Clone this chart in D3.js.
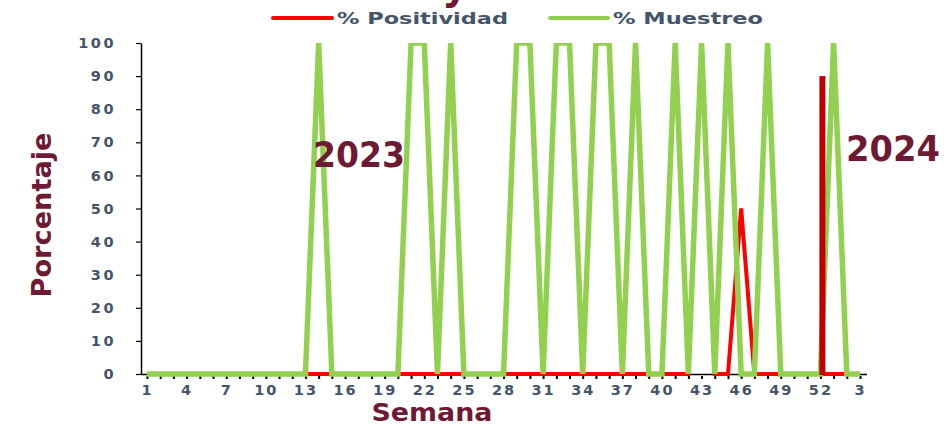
<!DOCTYPE html>
<html><head><meta charset="utf-8">
<script src="https://cdn.jsdelivr.net/npm/d3@7"></script>
<style>
html,body{margin:0;padding:0;background:#fff;}
svg{display:block;}
</style></head>
<body>
<svg id="c" width="945" height="427"></svg>
<script>
// ---- data ----
const semanas = [
  "1","2","3","4","5","6","7","8","9","10","11","12","13","14","15","16","17","18","19","20",
  "21","22","23","24","25","26","27","28","29","30","31","32","33","34","35","36","37","38","39","40",
  "41","42","43","44","45","46","47","48","49","50","51","52","1 ","2 ","3 "
];
const tickLabels = ["1","4","7","10","13","16","19","22","25","28","31","34","37","40","43","46","49","52","3 "];
const muestreo = [
  0,0,0,0,0,0,0,0,0,0,0,0,0,100,0,0,0,0,0,0,
  100,100,0,100,0,0,0,0,100,100,0,100,100,0,100,100,0,100,0,0,
  100,0,100,0,100,0,0,100,0,0,0,0,100,0,0
];
const positividad = [
  0,0,0,0,0,0,0,0,0,0,0,0,0,0,0,0,0,0,0,0,
  0,0,0,0,0,0,0,0,0,0,0,0,0,0,0,0,0,0,0,0,
  0,0,100,0,0,50,0,0,0,0,0,0,0,0,0
];
const positividad2024Barra = [{semana:"52", valor:90}];
const yTicks = [0,10,20,30,40,50,60,70,80,90,100];

const maroon = "#6E1A35", slate = "#44546A";
const svg = d3.select("#c");

const x = d3.scalePoint().domain(semanas).range([147, 860]);
const y = d3.scaleLinear().domain([0,100]).range([374, 43]);

// clip
svg.append("defs").append("clipPath").attr("id","clip")
  .append("rect").attr("x",130).attr("y",43).attr("width",760).attr("height",336);

// axes
const xAxis = svg.append("g").attr("transform","translate(0,374)")
  .call(d3.axisBottom(x).tickSizeInner(3).tickSizeOuter(0).tickFormat(d => tickLabels.includes(d) ? d.trim() : ""));
xAxis.select(".domain").attr("d","M141,0.5H867").attr("stroke","#000").attr("stroke-width",1.5);
xAxis.selectAll(".tick line").attr("stroke","#000").attr("stroke-width",2).attr("y1",2).attr("y2",5);
xAxis.selectAll(".tick text").attr("fill",slate).attr("dy","1.05em")
  .style("font-family","'DejaVu Sans'").style("font-weight","bold").style("font-size","14.5px")
  .style("letter-spacing","2px");

const yAxis = svg.append("g").attr("transform","translate(141,0)")
  .call(d3.axisLeft(y).tickValues(yTicks).tickSizeInner(5).tickSizeOuter(0).tickPadding(20));
yAxis.select(".domain").attr("stroke","#000").attr("stroke-width",1.5);
yAxis.selectAll(".tick line").attr("stroke","#000").attr("stroke-width",1.2);
yAxis.selectAll(".tick text").attr("fill",slate)
  .style("font-family","'DejaVu Sans'").style("font-weight","bold").style("font-size","14.5px")
  .style("letter-spacing","2.5px");

// lines
const g = svg.append("g").attr("clip-path","url(#clip)");
const line = d3.line().x((d,i)=>x(semanas[i])).y(d=>y(d)).curve(d3.curveLinear);
g.append("path").datum(positividad).attr("d",line)
  .attr("fill","none").attr("stroke","#FF0000").attr("stroke-width",4).attr("stroke-linejoin","miter");
g.append("path").datum(muestreo).attr("d",line)
  .attr("fill","none").attr("stroke","#92D050").attr("stroke-width",5.5).attr("stroke-linejoin","miter");
g.selectAll("rect.barra").data(positividad2024Barra).enter().append("rect")
  .attr("x",d=>x(d.semana)-1).attr("width",6)
  .attr("y",d=>y(d.valor)).attr("height",d=>y(0)-y(d.valor)+1)
  .attr("fill","#C00000");

// title fragment (cut off at top, as in the reference)
svg.append("text").attr("x",455).attr("y",-1).attr("text-anchor","middle")
  .attr("fill",maroon).style("font-family","'DejaVu Sans'").style("font-weight","bold").style("font-size","40px")
  .text("y");

// legend
const legend = [{name:"% Positividad", color:"#FF0000", x1:273, x2:332, tx:337, w:171},
                {name:"% Muestreo", color:"#92D050", x1:550, x2:608, tx:613, w:150}];
legend.forEach(l=>{
  svg.append("line").attr("x1",l.x1).attr("x2",l.x2).attr("y1",18).attr("y2",18)
    .attr("stroke",l.color).attr("stroke-width",4).attr("stroke-linecap","round");
  svg.append("text").attr("x",l.tx).attr("y",23.5).attr("fill",slate)
    .attr("textLength",l.w).attr("lengthAdjust","spacingAndGlyphs")
    .style("font-family","'DejaVu Sans'").style("font-weight","bold").style("font-size","15.5px")
    .text(l.name);
});

// axis titles
svg.append("text").attr("transform","translate(51,215) rotate(-90)").attr("text-anchor","middle")
  .attr("fill",maroon).attr("textLength",165).attr("lengthAdjust","spacingAndGlyphs")
  .style("font-family","'DejaVu Sans'").style("font-weight","bold").style("font-size","27px")
  .text("Porcentaje");
svg.append("text").attr("x",432).attr("y",421).attr("text-anchor","middle")
  .attr("fill",maroon).attr("textLength",121).attr("lengthAdjust","spacingAndGlyphs")
  .style("font-family","'DejaVu Sans'").style("font-weight","bold").style("font-size","25px")
  .text("Semana");

// year labels
svg.append("text").attr("x",313).attr("y",167).attr("fill",maroon)
  .attr("textLength",92).attr("lengthAdjust","spacingAndGlyphs")
  .style("font-family","'DejaVu Sans'").style("font-weight","bold").style("font-size","35px")
  .text("2023");
svg.append("text").attr("x",846).attr("y",161).attr("fill",maroon)
  .attr("textLength",94).attr("lengthAdjust","spacingAndGlyphs")
  .style("font-family","'DejaVu Sans'").style("font-weight","bold").style("font-size","35px")
  .text("2024");
</script>
</body></html>
